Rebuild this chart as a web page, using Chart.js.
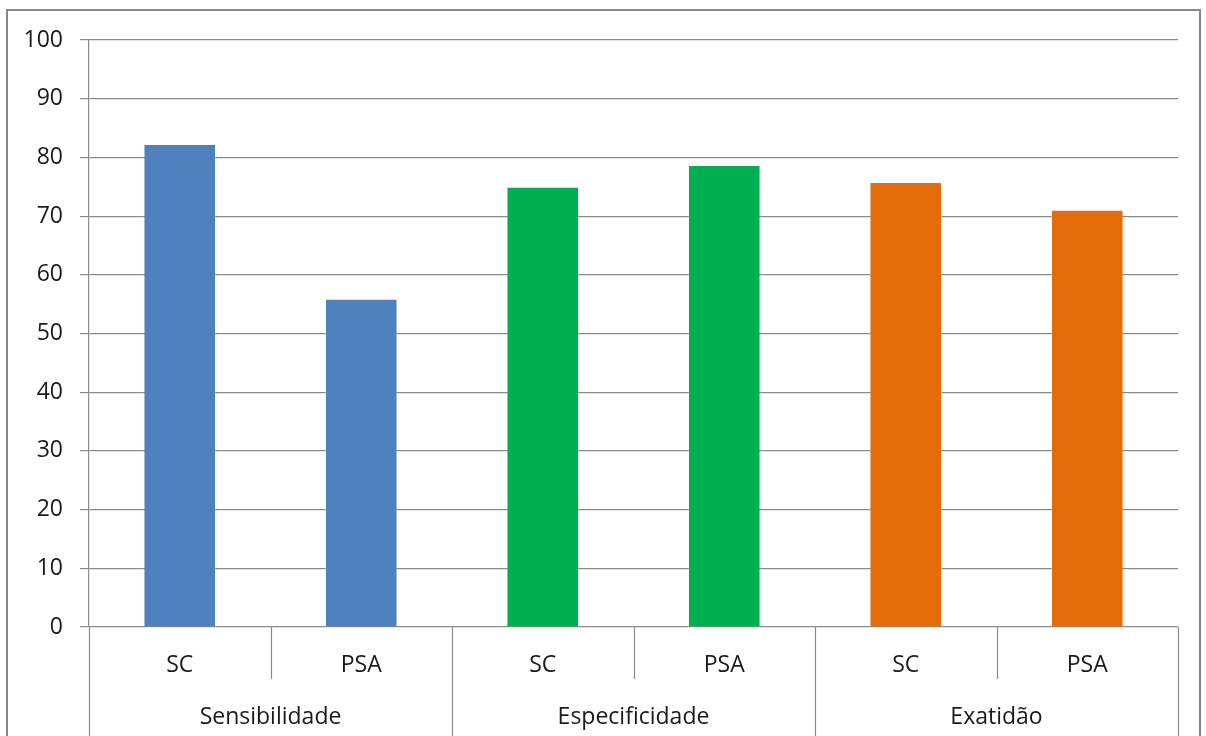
<!DOCTYPE html>
<html>
<head>
<meta charset="utf-8">
<script src="https://cdn.jsdelivr.net/npm/chart.js@4"></script>
<style>
  html, body { margin: 0; padding: 0; background: #fff; }
  #wrap { width: 1206px; height: 736px; }
</style>
</head>
<body>
<div id="wrap"><canvas id="chart" width="1206" height="736"></canvas></div>
<script>
// Values
const methods = ['SC', 'PSA', 'SC', 'PSA', 'SC', 'PSA'];
const groups = ['Sensibilidade', 'Especificidade', 'Exatidão'];
const values = [82.3, 55.9, 75.0, 78.7, 75.8, 71.1];
const barColors = ['#4F81BD', '#4F81BD', '#00B050', '#00B050', '#E46C0A', '#E46C0A'];
const yTicks = { min: 0, max: 100, step: 10 };

const lineGray = '#8a8a8a';
const textColor = '#1a1a1a';
const font = { family: '"Open Sans", sans-serif', size: 23 };

// frame around the whole chart + group separators under the axis
const framePlugin = {
  id: 'frame',
  beforeDraw(chart) {
    const ctx = chart.ctx;
    ctx.save();
    ctx.strokeStyle = '#878787';
    ctx.lineWidth = 2;
    ctx.strokeRect(7, 10, 1193, 800);
    ctx.restore();
  },
  afterDraw(chart) {
    const x = chart.scales.x;
    const ctx = chart.ctx;
    ctx.save();
    ctx.strokeStyle = lineGray;
    ctx.lineWidth = 1.2;
    for (let i = 0; i <= methods.length; i++) {
      const px = Math.round(x.getPixelForValue(i - 0.5)) + 0.5;
      const bottom = (i % 2 === 0) ? chart.height : x.bottom;
      ctx.beginPath();
      ctx.moveTo(px, chart.chartArea.bottom);
      ctx.lineTo(px, bottom);
      ctx.stroke();
    }
    ctx.restore();
  }
};

new Chart(document.getElementById('chart').getContext('2d'), {
  type: 'bar',
  data: {
    labels: methods,
    datasets: [{
      data: values,
      backgroundColor: barColors,
      borderColor: 'rgba(255,255,255,0.35)',
      borderWidth: 1,
      categoryPercentage: 1,
      barPercentage: 0.4
    }]
  },
  options: {
    responsive: false,
    animation: false,
    layout: { padding: { left: 0, right: 28, top: 40, bottom: 0 } },
    plugins: {
      legend: { display: false },
      tooltip: { enabled: false }
    },
    scales: {
      x: {
        offset: true,
        grid: { display: false },
        border: { display: false },
        ticks: { color: textColor, font: font, padding: 17, maxRotation: 0, autoSkip: false },
        afterFit: s => { s.height = 52; }
      },
      x2: {
        type: 'category',
        position: 'bottom',
        labels: groups,
        offset: true,
        grid: { display: false },
        border: { display: false },
        ticks: { color: textColor, font: font, padding: 17, maxRotation: 0, autoSkip: false },
        afterFit: s => { s.height = 57; }
      },
      y: {
        min: yTicks.min,
        max: yTicks.max,
        grid: { color: lineGray, lineWidth: 1.2, tickLength: 9 },
        border: { color: lineGray, width: 1.2 },
        ticks: { stepSize: yTicks.step, color: textColor, font: font, padding: 17 },
        afterFit: s => { s.width = 89; }
      }
    }
  },
  plugins: [framePlugin]
});
</script>
</body>
</html>
